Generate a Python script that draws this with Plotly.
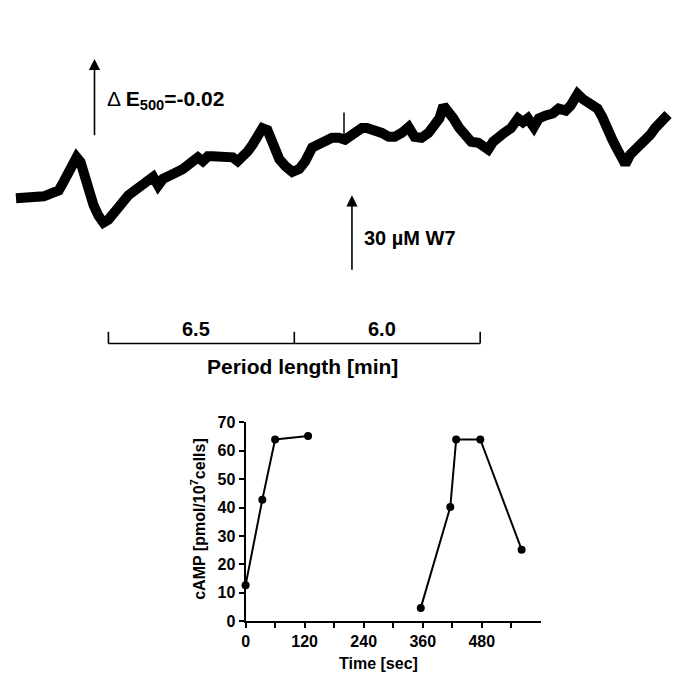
import plotly.graph_objects as go

# Top panel: absorbance trace (time in s, extinction change in 1/1000 units)
trace_t = [0, 16, 36, 56, 76, 86, 96, 106, 116, 122,
           130, 136, 146, 156, 166, 176, 186, 196, 210, 226,
           246, 266, 276, 286, 296, 316, 336, 356, 366, 376,
           386, 396, 416, 436, 446, 456, 466, 476, 486, 496,
           506, 512, 520, 530, 542, 556, 570, 582, 596, 610,
           622, 636, 650, 662, 676, 686, 696, 706, 720, 736,
           750, 762, 776, 790, 802, 816, 830, 842, 852, 860,
           870, 880, 892, 906, 916, 930, 942, 950, 960, 970,
           982, 996, 1010, 1020, 1030, 1042, 1052, 1066, 1080, 1092,
           1106, 1116, 1126, 1130, 1140, 1150, 1160, 1170, 1180, 1190,
           1200, 1210, 1220, 1226, 1236, 1246, 1256, 1266, 1276, 1286,
           1296, 1306, 1312]
trace_e = [1.25, 1.5, 1.75, 1.75, 2.75, 3.25, 5.5, 8.25, 11, 11.75,
           10.5, 7.5, 3.75, -0.5, -3.25, -5, -4.25, -3, -0.5, 2,
           3.75, 5.75, 6.75, 4.5, 6.25, 7.5, 8.75, 10.75, 11.75, 10.75,
           12, 12, 11.75, 11.75, 10.75, 11.75, 13.25, 15, 17, 19.25,
           18.75, 16.75, 13.75, 11.25, 9.5, 8, 8.75, 10.75, 14.25, 15,
           15.75, 16.75, 16.75, 16.25, 17.5, 18.75, 19.25, 19.25, 18.75, 18,
           17, 17, 18, 19.5, 17, 16.75, 18, 20, 21.75, 25,
           23.75, 21.75, 19.25, 17.5, 15.75, 15.5, 14.5, 13.75, 15.75, 17,
           18, 19.25, 21.75, 20.75, 21.75, 19.5, 21.75, 22.5, 23, 24.25,
           23.75, 25, 27, 28, 26.75, 25.75, 25.5, 24.25, 22, 18.25,
           16.25, 13.75, 10.75, 10, 12.5, 13.75, 14.5, 15.75, 17.5, 19.25,
           20.75, 22, 22.75]
spike_t = [660, 660]
spike_e = [16.5, 23.25]

# period scale bar (trough positions on the time axis) and labels
period_edges = [186, 560, 934]
period_labels = ["6.5", "6.0"]

# Bottom panel: cAMP
camp_t1 = [0, 34, 60, 127]
camp_c1 = [12.7, 42.8, 64.0, 65.2]
camp_t2 = [356, 416, 428, 477, 561]
camp_c2 = [4.7, 40.2, 64.0, 64.0, 25.2]
x_tick_vals = [0, 60, 120, 180, 240, 300, 360, 420, 480, 540]
x_tick_text = ["0", "", "120", "", "240", "", "360", "", "480", ""]
y_tick_vals = [0, 10, 20, 30, 40, 50, 60, 70]

FONT = "Liberation Sans, Arial, sans-serif"
OFF = 8            # page margin around the plot div
W, H = 685 - 2 * OFF, 686 - 2 * OFF


def px(sx):
    return (sx - OFF) / W


def py(sy):
    return 1 - (sy - OFF) / H


fig = go.Figure()

fig.add_trace(go.Scatter(x=trace_t, y=trace_e, mode="lines",
                         line=dict(color="black", width=10),
                         xaxis="x", yaxis="y", showlegend=False, hoverinfo="skip"))
fig.add_trace(go.Scatter(x=spike_t, y=spike_e, mode="lines",
                         line=dict(color="black", width=1.5),
                         xaxis="x", yaxis="y", showlegend=False, hoverinfo="skip"))

for tt, cc in [(camp_t1, camp_c1), (camp_t2, camp_c2)]:
    fig.add_trace(go.Scatter(x=tt, y=cc, mode="lines+markers",
                             line=dict(color="black", width=2),
                             marker=dict(color="black", size=8),
                             xaxis="x2", yaxis="y2", showlegend=False,
                             cliponaxis=False))

# scale bar
shapes = [dict(type="line", xref="x", yref="paper",
               x0=period_edges[0], x1=period_edges[-1], y0=py(344), y1=py(344),
               line=dict(color="black", width=1.6))]
for e in period_edges:
    shapes.append(dict(type="line", xref="x", yref="paper", x0=e, x1=e,
                       y0=py(344), y1=py(332), line=dict(color="black", width=1.6)))

bold20 = dict(size=20, family=FONT, color="black", weight="bold")
annotations = []
for i, lab in enumerate(period_labels):
    annotations.append(dict(x=(period_edges[i] + period_edges[i + 1]) / 2 - 10, y=py(329),
                            xref="x", yref="paper", xanchor="center", yanchor="middle",
                            text=lab, showarrow=False, font=bold20))
annotations.append(dict(x=576, y=py(368), xref="x", yref="paper", xanchor="center",
                        yanchor="middle", text="Period length [min]", showarrow=False,
                        font=dict(size=21, family=FONT, color="black", weight="bold")))

# arrows
annotations.append(dict(x=158, y=37, ax=158, ay=17, xref="x", yref="y", axref="x", ayref="y",
                        text="", showarrow=True, arrowhead=2, arrowsize=1.4, arrowwidth=1.6,
                        arrowcolor="black"))
annotations.append(dict(x=180, y=26.5, xref="x", yref="y", xanchor="left", yanchor="middle",
                        text="\u0394 <b>E<sub>500</sub>=-0.02</b>", showarrow=False,
                        font=dict(size=21, family=FONT, color="black")))
annotations.append(dict(x=676, y=2, ax=676, ay=-17.5, xref="x", yref="y", axref="x", ayref="y",
                        text="", showarrow=True, arrowhead=2, arrowsize=1.4, arrowwidth=1.6,
                        arrowcolor="black"))
annotations.append(dict(x=696, y=-9, xref="x", yref="y", xanchor="left", yanchor="middle",
                        text="30 \u00b5M W7", showarrow=False, font=bold20))

# axis titles of the bottom panel
annotations.append(dict(x=px(377), y=py(672), xref="paper", yref="paper",
                        xanchor="center", yanchor="middle",
                        text="Time [sec]", showarrow=False,
                        font=dict(size=16, family=FONT, color="black", weight="bold")))
annotations.append(dict(x=px(195), y=py(524), xref="paper", yref="paper", textangle=-90,
                        xanchor="center", yanchor="middle",
                        text="cAMP [pmol/10<sup>7</sup>cells]", showarrow=False,
                        font=dict(size=16, family=FONT, color="black", weight="bold")))

axis_common = dict(showline=True, linecolor="black", linewidth=2, showgrid=False,
                   zeroline=False, ticks="outside", ticklen=5, tickwidth=2,
                   tickcolor="black",
                   tickfont=dict(size=16, family=FONT, color="black", weight="bold"))

fig.update_layout(
    width=W, height=H,
    margin=dict(l=0, r=0, t=0, b=0),
    paper_bgcolor="white", plot_bgcolor="white",
    # top panel: 1 px = 2 s, 1 px = 0.25 mE (screen x = 12 + t/2)
    xaxis=dict(domain=[0, 1], range=[(OFF - 12) * 2, (OFF + W - 12) * 2], visible=False),
    yaxis=dict(domain=[py(280), py(40)], range=[-20, 40], visible=False),
    xaxis2=dict(domain=[px(243), px(540)], range=[0, 600], anchor="y2",
                tickvals=x_tick_vals, ticktext=x_tick_text, **axis_common),
    yaxis2=dict(domain=[py(629), py(425)], range=[0, 70], anchor="x2",
                tickvals=y_tick_vals, **axis_common),
    shapes=shapes,
    annotations=annotations,
    showlegend=False,
)

fig.write_html("out.html")
